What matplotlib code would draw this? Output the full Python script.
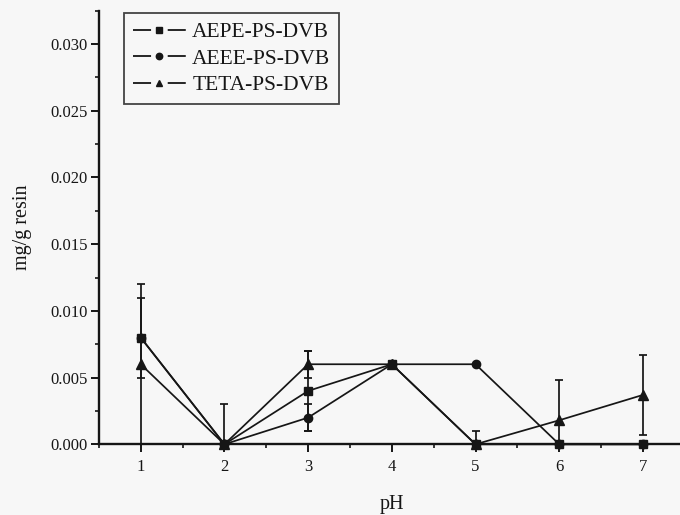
import numpy as np
import matplotlib
matplotlib.use("Agg")
import matplotlib.pyplot as plt
from matplotlib.lines import Line2D
from matplotlib.ticker import MultipleLocator, FormatStrFormatter

# Adsorbed amount versus pH for three resins
ph = [1, 2, 3, 4, 5, 6, 7]

aepe = [0.008, 0.0, 0.004, 0.006, 0.0, 0.0, 0.0]
aepe_err = [0.003, 0.003, 0.003, 0.0, 0.001, 0.0, 0.0]

aeee = [0.008, 0.0, 0.002, 0.006, 0.006, 0.0, 0.0]
aeee_err = [0.0, 0.0, 0.001, 0.0, 0.0, 0.0, 0.0]

teta = [0.006, 0.0, 0.006, 0.006, 0.0, 0.0018, 0.0037]
teta_err = [0.006, 0.0, 0.001, 0.0, 0.0, 0.003, 0.003]

series_names = ["AEPE-PS-DVB", "AEEE-PS-DVB", "TETA-PS-DVB"]
x_label = "pH"
y_label = "mg/g resin"

plt.rcParams["font.family"] = ["Liberation Serif", "DejaVu Serif"]
plt.rcParams["lines.scale_dashes"] = False

ink = "#161616"
bg = "#f7f7f7"

fig = plt.figure(figsize=(6.8, 5.15), dpi=100, facecolor=bg)
ax = fig.add_axes([0.1454, 0.1373, 0.8616, 0.8419], facecolor=bg)

styles = {
    "AEPE-PS-DVB": dict(marker="s", ms=6.3),
    "AEEE-PS-DVB": dict(marker="o", ms=6.0),
    "TETA-PS-DVB": dict(marker="^", ms=7.0),
}
data = {
    "AEPE-PS-DVB": (aepe, aepe_err),
    "AEEE-PS-DVB": (aeee, aeee_err),
    "TETA-PS-DVB": (teta, teta_err),
}

x = np.array(ph, dtype=float)
# draw order puts the squares on top where points coincide
for name in ["AEEE-PS-DVB", "TETA-PS-DVB", "AEPE-PS-DVB"]:
    y, e = (np.array(v, dtype=float) for v in data[name])
    ax.plot(x, y, color=ink, lw=1.25, linestyle="-", marker=styles[name]["marker"],
            ms=styles[name]["ms"], mfc=ink, mec=ink, clip_on=False, zorder=4)
    m = e > 0
    if m.any():
        ax.errorbar(x[m], y[m], yerr=e[m], fmt="none", ecolor=ink, elinewidth=1.25,
                    capsize=3.2, capthick=1.25, zorder=3)

ax.set_xlim(0.5, 7.5)
ax.set_ylim(0.0, 0.0325)

ax.xaxis.set_major_locator(MultipleLocator(1))
ax.xaxis.set_minor_locator(MultipleLocator(0.5))
ax.yaxis.set_major_locator(MultipleLocator(0.005))
ax.yaxis.set_minor_locator(MultipleLocator(0.0025))
ax.yaxis.set_major_formatter(FormatStrFormatter("%.3f"))

for side in ["top", "right"]:
    ax.spines[side].set_visible(False)
for side in ["left", "bottom"]:
    ax.spines[side].set_linewidth(1.7)
    ax.spines[side].set_color(ink)

ax.tick_params(axis="both", which="major", direction="out", length=5.8, width=1.4,
               colors=ink, labelsize=12)
ax.tick_params(axis="y", which="major", pad=2)
ax.tick_params(axis="x", which="major", pad=5)
ax.tick_params(axis="both", which="minor", direction="out", length=3, width=1.2,
               colors=ink)

ax.set_xlabel(x_label, fontsize=14.5, color=ink)
ax.xaxis.set_label_coords(0.5, -0.118)
ax.set_ylabel(y_label, fontsize=14.5, color=ink)
ax.yaxis.label.set_verticalalignment("center")
ax.yaxis.set_label_coords(-0.131, 0.5)

handles = [
    Line2D([], [], color=ink, lw=1.3, linestyle=(0, (13.0, 12.0)),
           marker=styles[n]["marker"], ms=4.6, mfc=ink, mec=ink)
    for n in series_names
]
leg = ax.legend(handles, series_names, loc="upper left",
                bbox_to_anchor=(0.0428, 0.9947), borderaxespad=0,
                fontsize=15.5, frameon=True, fancybox=False, edgecolor="#444444",
                facecolor=bg, framealpha=1, handlelength=2.45, handletextpad=0.3,
                labelspacing=0.3, borderpad=0.42)
leg.get_frame().set_linewidth(1.3)
for t in leg.get_texts():
    t.set_color(ink)

fig.savefig("out.png", dpi=100, facecolor=bg)
